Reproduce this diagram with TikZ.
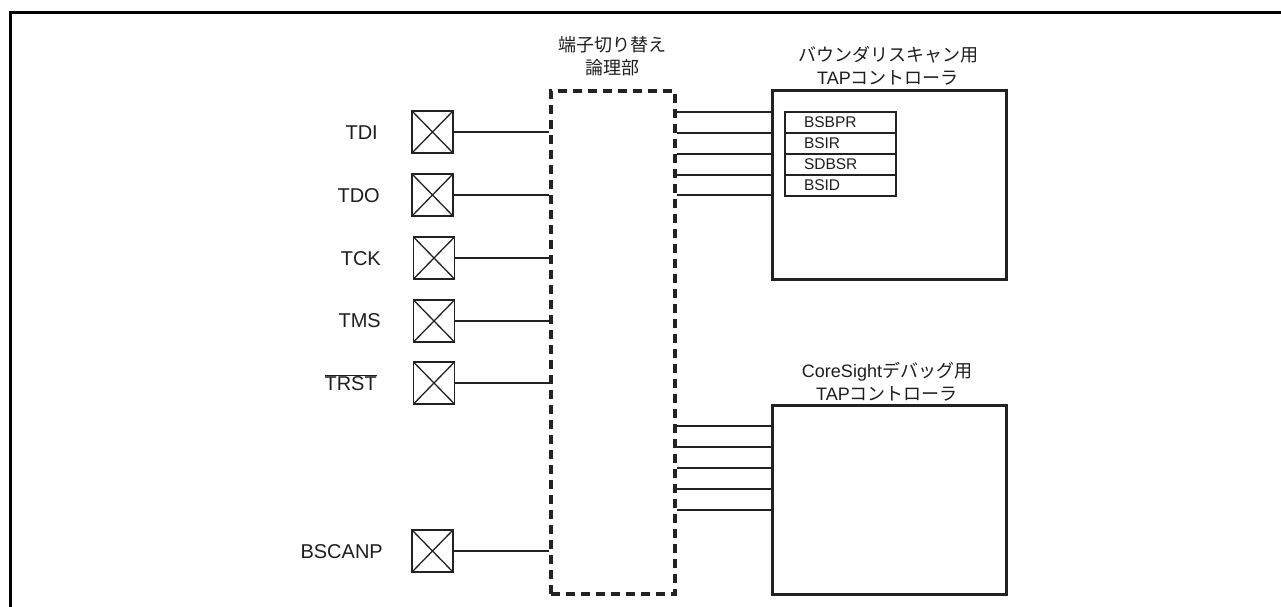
\documentclass[tikz,border=0pt]{standalone}
\usepackage{fontspec}
\setmainfont{Liberation Sans}
\newfontfamily\jp{Noto Sans CJK JP}
\usetikzlibrary{calc}
\definecolor{lc}{HTML}{222222}
\definecolor{tc}{HTML}{1E1E1E}
\begin{document}
\begin{tikzpicture}[x=1pt,y=-1pt,
  wire/.style={line width=1.7pt, draw=lc},
  pin/.style={draw=lc, line width=1.6pt, minimum width=41pt, minimum height=42pt, inner sep=0pt,
    path picture={\draw[line width=1.3pt, lc] (path picture bounding box.north west) -- (path picture bounding box.south east)
      (path picture bounding box.south west) -- (path picture bounding box.north east);}},
  plabel/.style={anchor=base east, font=\fontsize{20}{24}\selectfont, text=tc, inner sep=0pt},
  tap/.style={draw=lc, line width=3pt, minimum width=234pt, inner sep=0pt},
  reg/.style={draw=lc, line width=1.4pt, text width=111pt, minimum height=21pt, inner xsep=0pt, inner ysep=0pt,
    align=left, text=tc, font=\fontsize{15.5}{18}\selectfont},
  title/.style={align=center, text=tc, font=\fontsize{18}{23}\selectfont, inner sep=0pt}
]
\useasboundingbox (0,0) rectangle (1281,607);
\fill[white] (0,0) rectangle (1281,607);
% outer frame
\draw[line width=3.5pt, black] (10.7,607) -- (10.7,12.5) -- (1281,12.5);

% switching logic (dashed)
\node[draw=lc, line width=3.2pt, dash pattern=on 9pt off 6pt, minimum width=124pt, minimum height=503pt, inner sep=0pt] (sw) at (613,342.5) {};
\node[title] (swt) at (612,56.5) {{\jp 端子切り替え}\\{\jp 論理部}};

% TAP controllers
\node[tap, minimum height=188pt] (b1) at (889,185) {};
\node[title] (b1t) at (888,65.5) {{\jp バウンダリスキャン用}\\TAP{\jp コントローラ}};
\node[tap, minimum height=189pt] (b2) at (889,499.5) {};
\node[title] (b2t) at (887,381.5) {CoreSight{\jp デバッグ用}\\TAP{\jp コントローラ}};

% registers
\node[reg] (r1) at (840.5,122.5) {\hspace*{19pt}BSBPR};
\node[reg] (r2) at (840.5,143.5) {\hspace*{19pt}BSIR};
\node[reg] (r3) at (840.5,164.5) {\hspace*{19pt}SDBSR};
\node[reg] (r4) at (840.5,185.5) {\hspace*{19pt}BSID};

% pins
\node[pin] (tdi) at (432.5,132) {};
\node[pin] (tdo) at (432.5,195) {};
\node[pin] (tck) at (434,258) {};
\node[pin] (tms) at (434,321) {};
\node[pin] (trst) at (434,383) {};
\node[pin] (bscanp) at (432.5,551) {};

\node[plabel] (ltdi) at (378,139.7) {TDI};
\node[plabel] (ltdo) at (380,202.2) {TDO};
\node[plabel] (ltck) at (381,265.2) {TCK};
\node[plabel] (ltms) at (381,327.7) {TMS};
\node[plabel] (ltrst) at (377,390.2) {$\overline{\mbox{TRST}}$};
\node[plabel] (lbscanp) at (383,558.2) {BSCANP};

% pin wires
\foreach \p in {tdi,tdo,tck,tms,trst,bscanp}
  \draw[wire] (\p.east) -- (\p.east -| sw.west);

% wires to TAP controllers
\foreach \y in {112,133,154,175,195}
  \draw[wire] (sw.east |- 0,\y) -- (b1.west |- 0,\y);
\foreach \y in {426,447,468,489,510}
  \draw[wire] (sw.east |- 0,\y) -- (b2.west |- 0,\y);
\end{tikzpicture}
\end{document}
